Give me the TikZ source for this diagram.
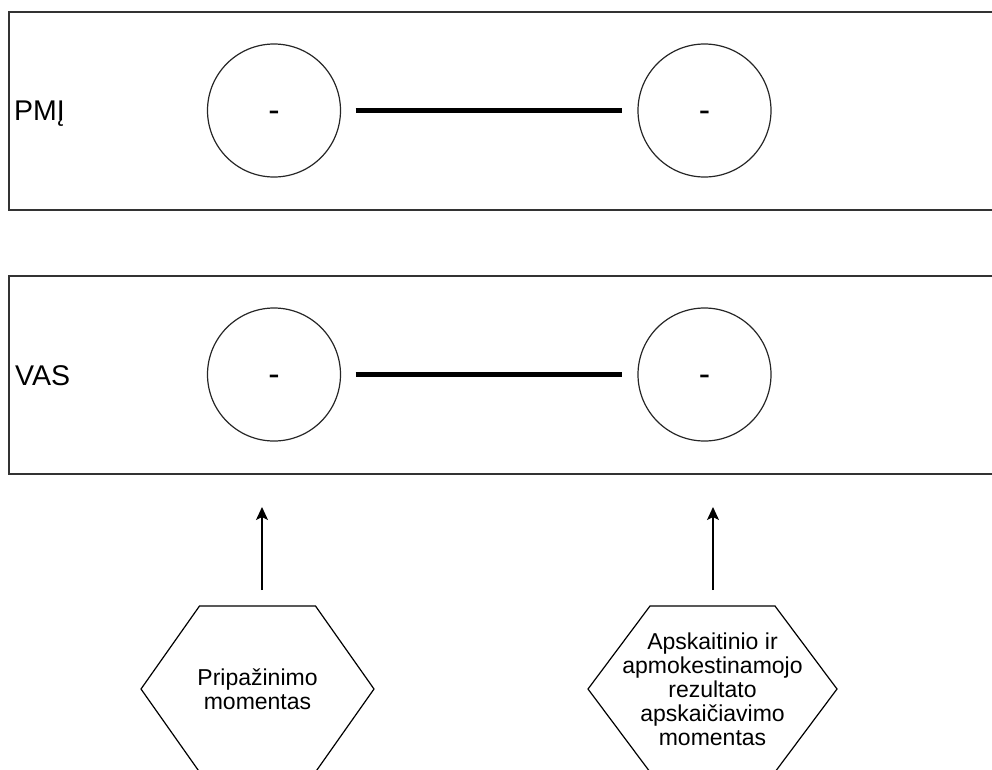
\documentclass[tikz,border=0pt]{standalone}
\usepackage{fontspec}
\setmainfont{Liberation Sans}
\usetikzlibrary{positioning,arrows.meta}

\begin{document}
\begin{tikzpicture}[x=1pt,y=-1pt,
	lane/.style={draw=black!80, line width=1.3pt, minimum width=990pt, minimum height=198pt, inner sep=0pt, outer sep=0pt},
	lanelabel/.style={font=\fontsize{28.5}{32}\selectfont, inner sep=0pt, anchor=base west},
	moment/.style={circle, draw=black!85, line width=1.2pt, minimum size=133pt, inner sep=0pt, outer sep=0pt, font=\fontsize{34}{36}\selectfont, text height=21.5pt, text depth=0pt},
	bar/.style={line width=5.5pt},
	pointer/.style={-{Stealth[length=13pt,width=12pt,inset=3pt]}, line width=1.3pt},
	hexbox/.style={minimum height=166pt, inner sep=0pt, outer sep=0pt, align=center, font=\fontsize{23}{24}\selectfont}
	]
	\useasboundingbox (0,0) rectangle (992,769);
	\pgfmathsetmacro{\RecInset}{58.5}
	\pgfmathsetmacro{\ResInset}{62}
	% PMJ
	\node[lane] (pmjlane) at (504,111) {};
	\node[lanelabel] (pmj) at (14,120) {PMĮ};
	\node[moment] (pmjrec) at (274,110.5) {-};
	\node[moment] (pmjres) at (704.5,110.5) {-};
	\draw[bar, shorten <=15pt, shorten >=16pt] (pmjrec) -- (pmjres);
	% VAS
	\node[lanelabel] (vas) at (15,385) {VAS};
	\node[lane] (vaslane) at (504,375) {};
	\node[moment] (vasrec) at (274,374.5) {-};
	\node[moment] (vasres) at (704.5,374.5) {-};
	\draw[bar, shorten <=15pt, shorten >=16pt] (vasrec) -- (vasres);
	% MOMENTS
	\node[hexbox, minimum width=233pt] (rec) at (257.5,689) {Pripažinimo\\momentas};
	\draw[line width=1.2pt] (rec.west) -- ([xshift=\RecInset pt]rec.north west) -- ([xshift=-\RecInset pt]rec.north east) -- (rec.east) -- ([xshift=-\RecInset pt]rec.south east) -- ([xshift=\RecInset pt]rec.south west) -- cycle;
	\node[hexbox, minimum width=249pt] (res) at (712.5,689) {Apskaitinio ir\\apmokestinamojo\\rezultato\\apskaičiavimo\\momentas};
	\draw[line width=1.2pt] (res.west) -- ([xshift=\ResInset pt]res.north west) -- ([xshift=-\ResInset pt]res.north east) -- (res.east) -- ([xshift=-\ResInset pt]res.south east) -- ([xshift=\ResInset pt]res.south west) -- cycle;
	\draw[pointer, shorten <=16pt, shorten >=33pt] ([xshift=4.5pt]rec.north) -- ([xshift=4.5pt]rec.north |- vaslane.south);
	\draw[pointer, shorten <=16pt, shorten >=33pt] ([xshift=0.5pt]res.north) -- ([xshift=0.5pt]res.north |- vaslane.south);
\end{tikzpicture}
\end{document}
